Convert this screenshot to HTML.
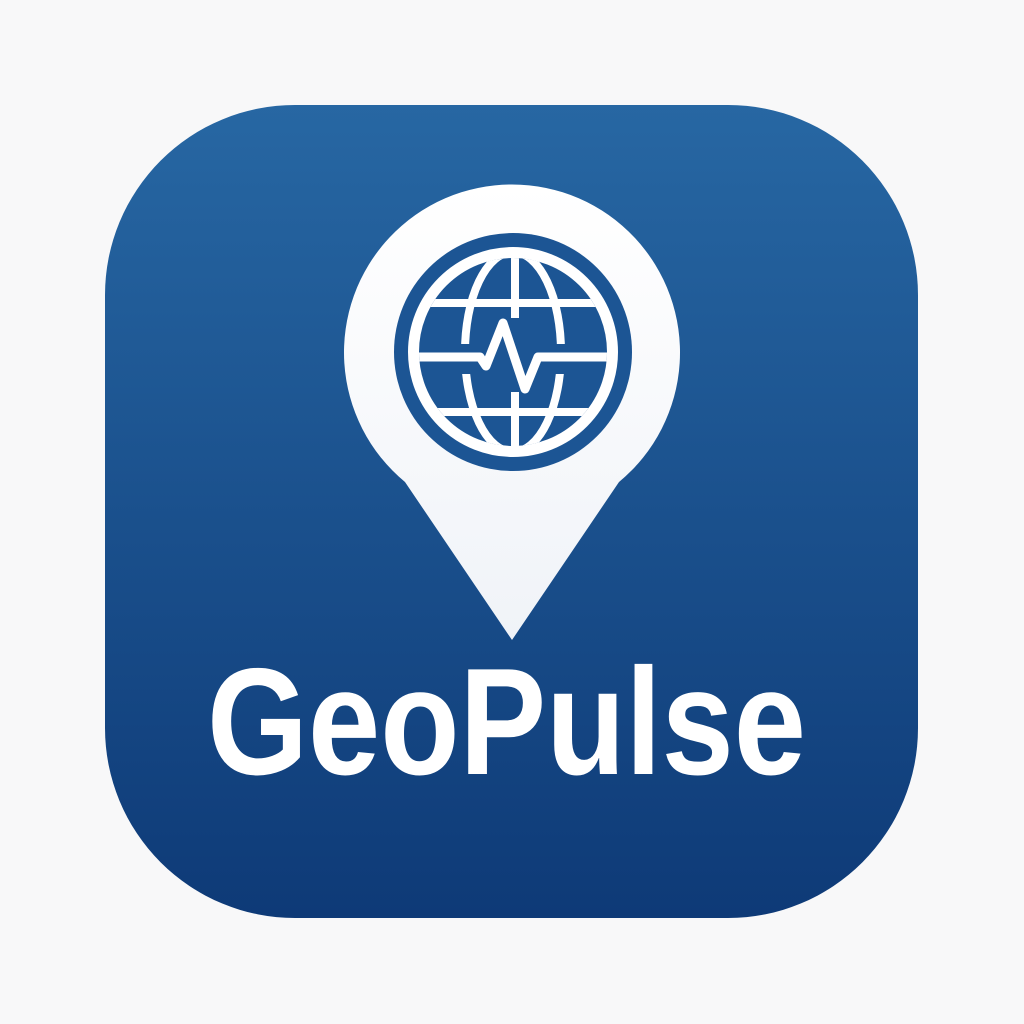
<!DOCTYPE html>
<html><head><meta charset="utf-8"><style>
html,body{margin:0;padding:0;background:#f8f8f9;width:1024px;height:1024px;overflow:hidden}
</style></head><body>
<svg width="1024" height="1024" viewBox="0 0 1024 1024">
<defs>
<linearGradient id="bg" x1="0" y1="0" x2="0" y2="1">
<stop offset="0" stop-color="#2767a3"/><stop offset="1" stop-color="#0e3a77"/></linearGradient>
<linearGradient id="pin" x1="0" y1="0" x2="0" y2="1">
<stop offset="0" stop-color="#ffffff"/><stop offset="1" stop-color="#f0f3f8"/></linearGradient>
<clipPath id="gc"><circle cx="513" cy="352" r="94"/></clipPath>
<clipPath id="mc"><rect x="380" y="230" width="270" height="114"/><rect x="380" y="374" width="270" height="110"/></clipPath>
</defs>
<rect x="105" y="105" width="813" height="813" rx="190" fill="url(#bg)"/>
<path d="M512 640 L405 482 A168 168 0 1 1 619 482 Z" fill="url(#pin)"/>
<g>
<circle cx="513" cy="352" r="119" fill="#1c5594"/>
<circle cx="513" cy="352" r="99.5" fill="none" stroke="#fff" stroke-width="11"/>
<g clip-path="url(#gc)" stroke="#fff" stroke-width="8" fill="none">
<line x1="400" y1="303" x2="630" y2="303"/>
<line x1="400" y1="412" x2="630" y2="412"/>
<line x1="515" y1="240" x2="515" y2="318"/>
<line x1="515" y1="392" x2="515" y2="470"/>
<ellipse cx="513" cy="352" rx="48" ry="100" clip-path="url(#mc)"/>
<path d="M400 357 L480 357 L486 366 L503 323 L525 389 L538 357 L630 357" stroke-linejoin="round" stroke-linecap="round" stroke-width="9"/>
</g>
</g>
<text x="207" y="774" textLength="599" lengthAdjust="spacingAndGlyphs" font-family="Liberation Sans, sans-serif" font-weight="bold" font-size="152" fill="#fff">GeoPulse</text>
</svg>
</body></html>
